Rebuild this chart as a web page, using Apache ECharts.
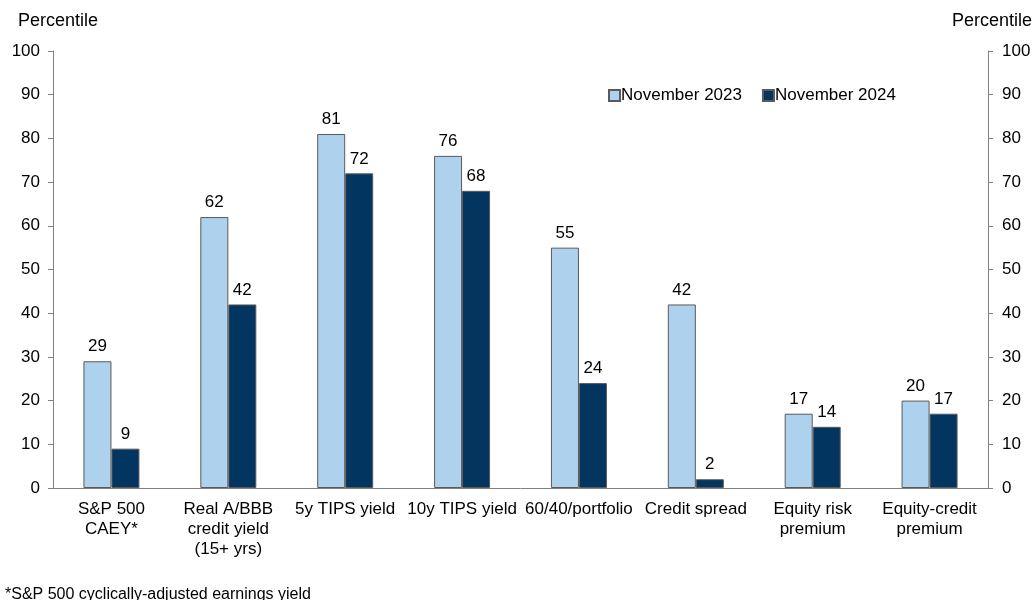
<!DOCTYPE html>
<html>
<head>
<meta charset="utf-8">
<style>
  html, body { margin: 0; padding: 0; background: #fff; }
  #chart { width: 1034px; height: 600px; }
</style>
<script src="https://cdn.jsdelivr.net/npm/echarts@6/dist/echarts.min.js"></script>
</head>
<body>
<div id="chart"></div>
<script>
// Valuation measures, percentile ranks
const categories = [
  'S&P 500\nCAEY*',
  'Real A/BBB\ncredit yield\n(15+ yrs)',
  '5y TIPS yield',
  '10y TIPS yield',
  '60/40/portfolio',
  'Credit spread',
  'Equity risk\npremium',
  'Equity-credit\npremium'
];
const nov2023 = [29, 62, 81, 76, 55, 42, 17, 20];
const nov2024 = [9, 42, 72, 68, 24, 2, 14, 17];
const yTicks = { min: 0, max: 100, interval: 10 };

const FONT = '"Liberation Sans", Arial, sans-serif';
const TEXT = '#000';
const AXIS = '#808080';
const FS = 17;

const chart = echarts.init(document.getElementById('chart'), null, { renderer: 'canvas' });

const valueAxis = (pos, margin) => ({
  type: 'value',
  position: pos,
  min: yTicks.min,
  max: yTicks.max,
  interval: yTicks.interval,
  axisLine: { show: true, lineStyle: { color: AXIS, width: 1 } },
  axisTick: { show: true, length: 5, lineStyle: { color: AXIS } },
  axisLabel: { color: TEXT, fontFamily: FONT, fontSize: FS, margin },
  splitLine: { show: false }
});

const barSeries = (name, data, color) => ({
  name,
  type: 'bar',
  data,
  barWidth: 28,
  barGap: '0%',
  itemStyle: { color, borderColor: '#5a5a5a', borderWidth: 1 },
  label: {
    show: true,
    position: 'top',
    distance: 6,
    color: TEXT,
    fontFamily: FONT,
    fontSize: FS
  }
});

chart.setOption({
  animation: false,
  textStyle: { fontFamily: FONT },
  grid: { left: 53, right: 46, top: 51, bottom: 112, containLabel: false },
  graphic: [
    { type: 'text', left: 18, top: 12, style: { text: 'Percentile', fill: TEXT, font: '18px ' + FONT } },
    { type: 'text', right: 2, top: 12, style: { text: 'Percentile', fill: TEXT, font: '18px ' + FONT } },
    { type: 'text', left: 5, top: 587, style: { text: '*S&P 500 cyclically-adjusted earnings yield', fill: TEXT, font: '16px ' + FONT } }
  ],
  legend: {
    left: 603,
    top: 82,
    itemWidth: 11,
    itemHeight: 11,
    itemGap: 20,
    icon: 'rect',
    textStyle: { color: TEXT, fontFamily: FONT, fontSize: FS, padding: [0, 0, 0, -4] },
    data: ['November 2023', 'November 2024']
  },
  xAxis: {
    type: 'category',
    data: categories,
    axisLine: { show: true, lineStyle: { color: AXIS, width: 1 } },
    axisTick: { show: false },
    axisLabel: { color: TEXT, fontFamily: FONT, fontSize: FS, margin: 11, lineHeight: 20, interval: 0 }
  },
  yAxis: [valueAxis('left', 13), valueAxis('right', 14)],
  series: [
    barSeries('November 2023', nov2023, '#aed2ee'),
    barSeries('November 2024', nov2024, '#02355f')
  ]
});
</script>
</body>
</html>
